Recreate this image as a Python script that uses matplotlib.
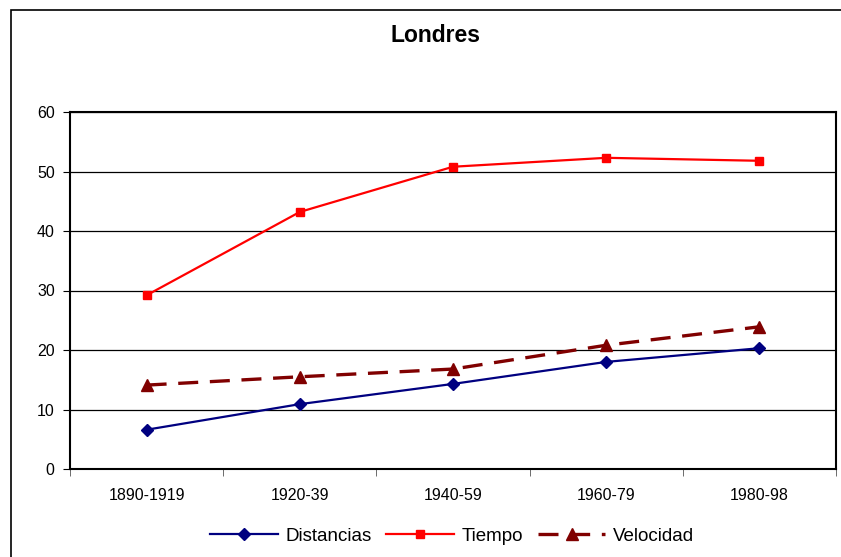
import matplotlib
matplotlib.use("Agg")
import matplotlib.pyplot as plt
from matplotlib.patches import Rectangle

periods = ["1890-1919", "1920-39", "1940-59", "1960-79", "1980-98"]
distancias = [6.6, 10.9, 14.3, 18.0, 20.3]
tiempo = [29.2, 43.2, 50.8, 52.3, 51.8]
velocidad = [14.1, 15.5, 16.8, 20.8, 23.9]
yticks = [0, 10, 20, 30, 40, 50, 60]

plt.rcParams['font.family'] = ['Liberation Sans', 'DejaVu Sans']

W, H = 841, 557
fig = plt.figure(figsize=(W/100, H/100), dpi=100)
fig.patch.set_facecolor('white')

# outer chart frame
fig.patches.append(Rectangle((11/W, -0.1), 1.2, (H-10)/H + 0.1, transform=fig.transFigure,
                             fill=False, edgecolor='black', linewidth=1.2))

l, r, t, b = 70, 836, 112, 469
ax = fig.add_axes([l/W, 1 - b/H, (r-l)/W, (b-t)/H])

x = list(range(len(periods)))
ax.plot(x, distancias, color='#000080', lw=1.6, marker='D', ms=6, label='Distancias')
ax.plot(x, tiempo, color='#FF0000', lw=1.6, marker='s', ms=6, label='Tiempo')
ax.plot(x, velocidad, color='#800000', lw=2.4, marker='^', ms=8, dashes=(6, 3.5), label='Velocidad')

ax.set_xlim(-0.5, len(periods) - 0.5)
ax.set_ylim(0, 60)
ax.set_yticks(yticks)
ax.set_yticklabels([str(v) for v in yticks], fontsize=11.5)
ax.set_xticks(x)
ax.set_xticklabels(periods, fontsize=11.5)
ax.set_xticks([i - 0.5 for i in range(len(periods) + 1)], minor=True)
ax.tick_params(axis='x', which='major', length=0, pad=14)
ax.tick_params(axis='x', which='minor', length=5, direction='out', color='#555555')
ax.tick_params(axis='y', length=5, direction='out', pad=6)
ax.grid(axis='y', color='black', lw=0.9)
ax.set_axisbelow(True)
for s in ax.spines.values():
    s.set_color('black')
    s.set_linewidth(1.5)

fig.text(435/W, 1 - 36/H, 'Londres', ha='center', va='center', fontsize=16.5, fontweight='bold')

fig.legend(loc='center', bbox_to_anchor=(452/W, 1 - 536/H), ncol=3, frameon=False, fontsize=13.5,
           handlelength=3.6, columnspacing=0.8, handletextpad=0.4)

fig.savefig('out.png', dpi=100)
